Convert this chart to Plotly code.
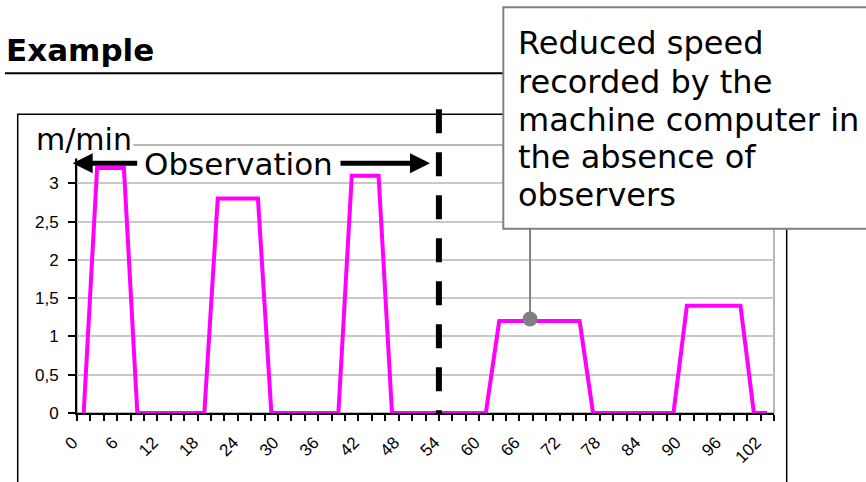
import plotly.graph_objects as go

# ---- data -------------------------------------------------------------
minutes = [0, 2, 4, 6, 8, 10, 12, 14, 16, 18, 20, 22, 24, 26, 28, 30, 32, 34,
           36, 38, 40, 42, 44, 46, 48, 50, 52, 54, 56, 58, 60, 62, 64, 66, 68,
           70, 72, 74, 76, 78, 80, 82, 84, 86, 88, 90, 92, 94, 96, 98, 100, 102]
speed = [0, 3.2, 3.2, 3.2, 0, 0, 0, 0, 0, 0,
         2.8, 2.8, 2.8, 2.8, 0, 0, 0, 0, 0, 0,
         3.1, 3.1, 3.1, 0, 0, 0, 0, 0, 0, 0,
         0, 1.2, 1.2, 1.2, 1.2, 1.2, 1.2, 1.2, 0, 0,
         0, 0, 0, 0, 0, 1.4, 1.4, 1.4, 1.4, 1.4,
         0, 0]
x_tick_vals = [0, 6, 12, 18, 24, 30, 36, 42, 48, 54, 60, 66, 72, 78, 84, 90, 96, 102]
x_tick_text = [str(v) for v in x_tick_vals]
y_tick_vals = [0, 0.5, 1, 1.5, 2, 2.5, 3]
y_tick_text = ["0", "0,5", "1", "1,5", "2", "2,5", "3"]
observation_end = 53          # minute where observation stops (dashed line)
callout_x, callout_y = 66.6, 1.227
callout_lines = ["Reduced speed", "recorded by the", "machine computer in",
                 "the absence of", "observers"]

# ---- geometry helpers (pixel -> paper) ---------------------------------
W, H = 866, 482
L, R, T, B = 77, 92, 145, 69
PW, PH = W - L - R, H - T - B


def px(xp):
    return (xp - L) / PW


def py(yp):
    return (H - B - yp) / PH


fig = go.Figure()
fig.add_trace(go.Scatter(x=minutes, y=speed, mode="lines",
                         line=dict(color="#FF00FF", width=4),
                         showlegend=False, hoverinfo="skip"))
fig.add_trace(go.Scatter(x=[callout_x], y=[callout_y], mode="markers",
                         marker=dict(color="#808080", size=15),
                         showlegend=False, hoverinfo="skip"))

shapes = []
# plot area border (grey)
shapes.append(dict(type="rect", xref="paper", yref="paper", x0=0, x1=1, y0=0, y1=1,
                   line=dict(color="#a0a0a0", width=1.5), layer="below"))
# outer chart box
shapes.append(dict(type="rect", xref="paper", yref="paper",
                   x0=px(17.7), x1=px(786.7), y0=py(520), y1=py(114.3),
                   line=dict(color="black", width=1.5)))
# title underline
shapes.append(dict(type="line", xref="paper", yref="paper",
                   x0=px(5), x1=px(503), y0=py(73.3), y1=py(73.3),
                   line=dict(color="black", width=2)))
# dashed observation end line
shapes.append(dict(type="line", xref="x", yref="paper",
                   x0=observation_end, x1=observation_end, y0=py(109.3), y1=0,
                   line=dict(color="black", width=6, dash="24px,19px")))
# callout pointer
shapes.append(dict(type="line", xref="x", yref="paper",
                   x0=callout_x, x1=callout_x, y0=callout_y / 3.5, y1=py(228.7),
                   line=dict(color="#808080", width=2)))
# callout box
shapes.append(dict(type="rect", xref="paper", yref="paper",
                   x0=px(503.3), x1=px(900), y0=py(228.7), y1=py(7.3),
                   line=dict(color="#808080", width=2), fillcolor="white"))

ann = []
ann.append(dict(text="<b>Example</b>", xref="paper", yref="paper", x=px(4), y=py(50),
                xanchor="left", yanchor="middle", showarrow=False,
                font=dict(family="DejaVu Sans", size=31, color="black")))
ann.append(dict(text="m/min", xref="paper", yref="paper", x=px(34), y=py(140),
                xanchor="left", yanchor="middle", showarrow=False, bgcolor="white",
                font=dict(family="DejaVu Sans", size=30, color="black")))
ann.append(dict(text="Observation", xref="paper", yref="paper", x=px(238), y=py(163.5),
                xanchor="center", yanchor="middle", showarrow=False,
                font=dict(family="DejaVu Sans", size=31, color="black")))
ann.append(dict(text="", xref="paper", yref="paper", x=px(72.7), y=py(163.3),
                ax=66, ay=0, showarrow=True, arrowhead=2, arrowsize=0.8,
                arrowwidth=5, arrowcolor="black"))
ann.append(dict(text="", xref="paper", yref="paper", x=px(430), y=py(163.3),
                ax=-91, ay=0, showarrow=True, arrowhead=2, arrowsize=0.8,
                arrowwidth=5, arrowcolor="black"))
baselines = [53, 91.3, 130, 166.7, 205]
for line_text, bl in zip(callout_lines, baselines):
    ann.append(dict(text=line_text, xref="paper", yref="paper", x=px(516), y=py(bl - 9.6),
                    xanchor="left", yanchor="middle", showarrow=False,
                    font=dict(family="DejaVu Sans", size=32, color="black")))

fig.update_layout(
    width=W, height=H, autosize=False,
    margin=dict(l=L, r=R, t=T, b=B, pad=0),
    paper_bgcolor="white", plot_bgcolor="white",
    shapes=shapes, annotations=ann,
    xaxis=dict(range=[-1, 103], tickvals=x_tick_vals, ticktext=x_tick_text,
               ticks="", tickangle=-45, showgrid=False, zeroline=False,
               showline=True, linecolor="black", linewidth=2,
               ticklabelstandoff=11, ticklabelshift=-11,
               tickfont=dict(family="Liberation Sans", size=17, color="black"),
               minor=dict(tick0=-1, dtick=2, ticks="outside", ticklen=6,
                          tickcolor="black", tickwidth=1.5, showgrid=False)),
    yaxis=dict(range=[0, 3.5], tickvals=y_tick_vals, ticktext=y_tick_text,
               ticks="outside", ticklen=7, tickcolor="black", tickwidth=1.5,
               showgrid=True, gridcolor="#c8c8c8", gridwidth=1.5, zeroline=False,
               showline=True, linecolor="black", linewidth=2,
               ticklabelstandoff=6,
               tickfont=dict(family="Liberation Sans", size=17, color="black")),
)

fig.write_html("out.html")
